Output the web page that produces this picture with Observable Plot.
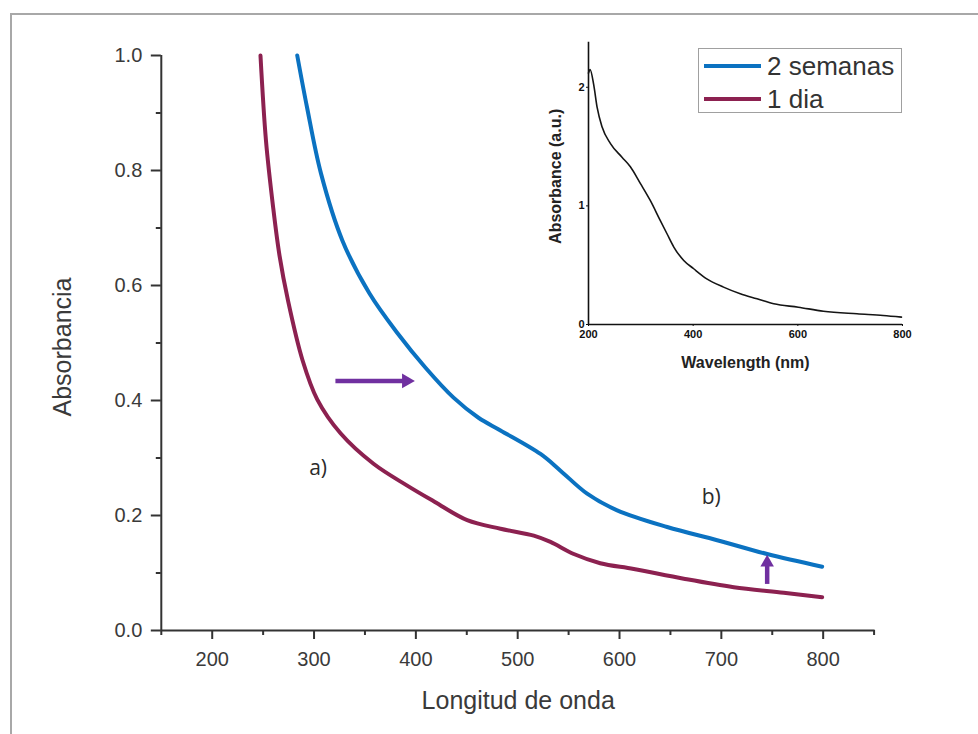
<!DOCTYPE html>
<html>
<head>
<meta charset="utf-8">
<script src="https://cdn.jsdelivr.net/npm/d3@7"></script>
<script src="https://cdn.jsdelivr.net/npm/@observablehq/plot@0.6"></script>
<style>
  html, body { margin: 0; padding: 0; background: #fff; }
  #wrap { position: relative; width: 978px; height: 734px; overflow: hidden; background: #fff; }
  #frame { position: absolute; left: 10px; top: 13px; width: 980px; height: 740px;
           border-top: 2px solid #a8a8a8; border-left: 2px solid #a8a8a8; }
  #main { position: absolute; left: 0; top: 0; }
  #inset { position: absolute; left: 530px; top: 30px; }
  #legend { position: absolute; left: 698px; top: 48px; width: 202px; height: 63px;
            border: 1.5px solid #a0a0a0; background: #fff; font-family: "Liberation Sans", Arial, sans-serif;
            font-size: 26px; color: #333; }
  .lg-row { position: absolute; left: 0; height: 30px; width: 100%; }
  .lg-line { position: absolute; left: 5px; width: 57px; height: 4px; top: 13px; }
  .lg-text { position: absolute; left: 68px; top: 0px; line-height: 30px; white-space: nowrap; }
</style>
</head>
<body>
<div id="wrap">
  <div id="frame"></div>
  <div id="main"></div>
  <div id="inset"></div>
  <div id="legend"></div>
</div>
<script>
// ---- Data ----
// Series "2 semanas" (blue)
const blueWave = [283.5, 293.1, 306.8, 327.9, 354.5, 382.0, 409.5, 437.0, 461.5, 483.1, 522.4, 542.0, 568.2, 597.7, 646.8, 695.9, 745.0, 799.0];
const blueAbs  = [1.0, 0.910, 0.795, 0.678, 0.586, 0.517, 0.457, 0.405, 0.370, 0.348, 0.307, 0.278, 0.238, 0.209, 0.180, 0.157, 0.133, 0.111];
// Series "1 dia" (maroon)
const redWave = [247.4, 252.8, 259.7, 266.1, 274.4, 288.7, 303.1, 326.0, 358.4, 391.5, 418.3, 450.4, 483.1, 515.8, 532.2, 555.1, 581.1, 614.0, 663.1, 712.2, 761.3, 799.0];
const redAbs  = [1.0, 0.852, 0.738, 0.652, 0.574, 0.470, 0.402, 0.343, 0.290, 0.252, 0.224, 0.192, 0.177, 0.165, 0.154, 0.133, 0.117, 0.107, 0.090, 0.0753, 0.0657, 0.058];
// Inset spectrum
const insetWave = [200, 203, 210, 216.5, 226, 242, 264, 280, 299, 318, 337, 350, 363, 382, 401, 426, 458, 490, 522, 554, 601, 649, 713, 763, 798];
const insetAbs  = [2.12, 2.15, 2.02, 1.83, 1.665, 1.525, 1.41, 1.33, 1.19, 1.046, 0.878, 0.765, 0.653, 0.54, 0.47, 0.385, 0.315, 0.259, 0.217, 0.175, 0.146, 0.112, 0.09, 0.076, 0.062];

// Ticks
const xMajorTicks = [200, 300, 400, 500, 600, 700, 800];
const xMinorTicks = [150, 250, 350, 450, 550, 650, 750, 850];
const yMajorTicks = [0, 0.2, 0.4, 0.6, 0.8, 1.0];
const yMinorTicks = [0.1, 0.3, 0.5, 0.7, 0.9];
const insetXTicks = [200, 400, 600, 800];
const insetYTicks = [0, 1, 2];

// Annotations
const noteLabels = ["a)", "b)"];
const noteWave   = [304, 690];
const noteAbs    = [0.283, 0.231];
const arrowTail = [{x: 321, y: 0.434}, {x: 745, y: 0.081}];
const arrowTip  = [{x: 398, y: 0.434}, {x: 745, y: 0.1304}];

const seriesNames = ["2 semanas", "1 dia"];
const seriesColors = ["#0b72c1", "#8c2150"];
const arrowColor = "#7030a0";

// ---- Build tables ----
const blue = blueWave.map((x, i) => ({x, y: blueAbs[i]}));
const red = redWave.map((x, i) => ({x, y: redAbs[i]}));
const inset = insetWave.map((x, i) => ({x, y: insetAbs[i]}));
const notes = noteLabels.map((t, i) => ({t, x: noteWave[i], y: noteAbs[i]}));
const arrows = arrowTail.map((a, i) => ({x1: a.x, y1: a.y, x2: arrowTip[i].x, y2: arrowTip[i].y, horiz: a.y === arrowTip[i].y}));

const font = "'Liberation Sans', Arial, Helvetica, sans-serif";
const axisColor = "#333";

const main = Plot.plot({
  width: 978, height: 734,
  marginLeft: 160.8, marginRight: 103.4, marginTop: 55, marginBottom: 104,
  x: {domain: [150, 851]},
  y: {domain: [0, 1]},
  style: {fontFamily: font, color: axisColor, background: "transparent", overflow: "visible"},
  marks: [
    Plot.axisX({ticks: xMajorTicks, tickSize: 9, tickPadding: 12, fontSize: 20, stroke: axisColor, strokeWidth: 2, label: null, tickFormat: d => String(d), fill: "#3a3a3a"}),
    Plot.axisX({ticks: xMinorTicks, tickSize: 5, stroke: axisColor, strokeWidth: 2, label: null, tickFormat: () => ""}),
    Plot.axisY({ticks: yMajorTicks, tickSize: 10, tickPadding: 9, fontSize: 20, stroke: axisColor, strokeWidth: 2, label: null, tickFormat: d3.format(".1f"), fill: "#3a3a3a"}),
    Plot.axisY({ticks: yMinorTicks, tickSize: 5, stroke: axisColor, strokeWidth: 2, label: null, tickFormat: () => ""}),
    Plot.ruleY([0], {stroke: axisColor, strokeWidth: 2}),
    Plot.ruleX([150], {stroke: axisColor, strokeWidth: 2}),
    Plot.line(blue, {x: "x", y: "y", stroke: seriesColors[0], strokeWidth: 4, curve: "catmull-rom"}),
    Plot.line(red, {x: "x", y: "y", stroke: seriesColors[1], strokeWidth: 4, curve: "catmull-rom"}),
    // arrows: shaft + filled triangular head
    Plot.link(arrows, {x1: "x1", y1: "y1", x2: d => d.horiz ? d.x2 - 5 : d.x2, y2: d => d.horiz ? d.y2 : d.y2 - 0.012,
      stroke: arrowColor, strokeWidth: 4.5}),
    Plot.dot(arrows.filter(d => d.horiz), {x: "x2", y: "y2", symbol: "triangle", r: 5.5, rotate: 90, dx: -7.5, fill: arrowColor, stroke: "none"}),
    Plot.dot(arrows.filter(d => !d.horiz), {x: "x2", y: "y2", symbol: "triangle", r: 5, rotate: 0, dy: 7, fill: arrowColor, stroke: "none"}),
    Plot.text(notes, {x: "x", y: "y", text: "t", fontSize: 21, fontFamily: "'Open Sans', sans-serif", fill: "#2b2b2b"}),
    Plot.text(["Longitud de onda"], {frameAnchor: "bottom", lineAnchor: "middle", dy: 70, fontSize: 25, fill: "#3a3a3a"}),
    Plot.text(["Absorbancia"], {frameAnchor: "left", lineAnchor: "middle", textAnchor: "middle", rotate: -90, dx: -98, dy: 4, fontSize: 25, fill: "#3a3a3a"})
  ]
});
document.getElementById("main").appendChild(main);

const insetPlot = Plot.plot({
  width: 390, height: 345,
  marginLeft: 58, marginRight: 18, marginTop: 11.7, marginBottom: 51,
  x: {domain: [200, 800]},
  y: {domain: [0, 2.38]},
  style: {fontFamily: font, color: "#111", background: "transparent", overflow: "visible"},
  marks: [
    Plot.axisX({ticks: insetXTicks, tickSize: 2, tickPadding: 4, fontSize: 11, fontWeight: "bold", stroke: "#111", label: null, tickFormat: d => String(d)}),
    Plot.axisY({ticks: insetYTicks, tickSize: 2, tickPadding: 2, fontSize: 11, fontWeight: "bold", stroke: "#111", label: null, tickFormat: d => String(d)}),
    Plot.ruleY([0], {stroke: "#111", strokeWidth: 1.6}),
    Plot.ruleX([200], {stroke: "#111", strokeWidth: 1.6}),
    Plot.line(inset, {x: "x", y: "y", stroke: "#151515", strokeWidth: 1.6, curve: "monotone-x"}),
    Plot.text(["Wavelength (nm)"], {frameAnchor: "bottom", lineAnchor: "middle", dy: 38, fontSize: 16, fontWeight: "bold", fill: "#222"}),
    Plot.text(["Absorbance (a.u.)"], {frameAnchor: "left", lineAnchor: "middle", textAnchor: "middle", rotate: -90, dx: -33, dy: -7, fontSize: 16, fontWeight: "bold", fill: "#222"})
  ]
});
document.getElementById("inset").appendChild(insetPlot);

// Legend
const lg = document.getElementById("legend");
seriesNames.forEach((name, i) => {
  const row = document.createElement("div");
  row.className = "lg-row";
  row.style.top = (2 + i * 33) + "px";
  const ln = document.createElement("div");
  ln.className = "lg-line";
  ln.style.background = seriesColors[i];
  const tx = document.createElement("div");
  tx.className = "lg-text";
  tx.textContent = name;
  row.appendChild(ln); row.appendChild(tx);
  lg.appendChild(row);
});
</script>
</body>
</html>
